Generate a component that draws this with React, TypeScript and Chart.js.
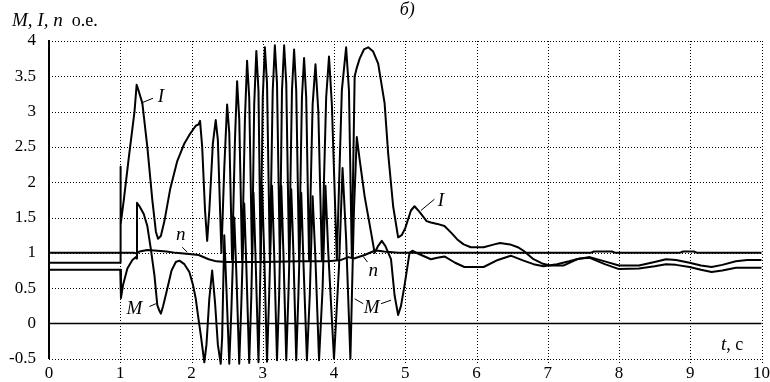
import React, { useEffect, useRef } from "react";
import { Chart, registerables } from "chart.js";

Chart.register(...registerables);

// Current I (p.u.) : [time s, value]
const SERIES_I: [number, number][] = [
  [0, 0.86], [1.0, 0.86], [1.0, 2.22], [1.01, 1.4], [1.05, 1.75], [1.12, 2.35], [1.2, 3.0], [1.23, 3.38],
  [1.25, 3.32], [1.31, 3.12], [1.38, 2.5], [1.45, 1.75], [1.5, 1.3], [1.53, 1.2], [1.57, 1.24], [1.62, 1.45],
  [1.7, 1.9], [1.8, 2.3], [1.9, 2.55], [1.97, 2.67], [2.06, 2.8], [2.1, 2.82], [2.12, 2.87], [2.15, 2.5],
  [2.19, 1.6], [2.22, 1.17], [2.25, 1.6], [2.3, 2.55], [2.34, 2.88], [2.37, 2.6], [2.42, 1.0], [2.46, 2.2],
  [2.5, 3.1], [2.53, 2.7], [2.57, 0.9], [2.61, 2.6], [2.64, 3.43], [2.67, 2.9], [2.71, 0.9], [2.75, 2.9],
  [2.78, 3.72], [2.81, 3.2], [2.85, 0.9], [2.88, 3.1], [2.91, 3.86], [2.94, 3.3], [2.97, 0.9], [3.0, 3.2],
  [3.03, 3.91], [3.06, 3.4], [3.1, 0.9], [3.14, 3.3], [3.17, 3.94], [3.2, 3.4], [3.24, 0.9], [3.27, 3.3],
  [3.3, 3.94], [3.33, 3.4], [3.37, 0.9], [3.41, 3.3], [3.44, 3.88], [3.47, 3.3], [3.51, 0.9], [3.55, 3.2],
  [3.58, 3.76], [3.61, 3.2], [3.65, 0.9], [3.7, 3.1], [3.74, 3.67], [3.78, 3.0], [3.83, 0.9], [3.89, 3.2],
  [3.93, 3.78], [3.97, 3.1], [4.04, 0.9], [4.11, 3.3], [4.17, 3.91], [4.21, 3.3], [4.25, 0.95], [4.29, 3.5],
  [4.32, 3.62], [4.36, 3.75], [4.42, 3.88], [4.48, 3.91], [4.55, 3.85], [4.62, 3.68], [4.71, 3.12], [4.76, 2.41],
  [4.83, 1.66], [4.9, 1.22], [4.95, 1.25], [5.0, 1.35], [5.08, 1.6], [5.13, 1.66], [5.2, 1.58], [5.3, 1.45],
  [5.36, 1.43], [5.45, 1.41], [5.55, 1.38], [5.65, 1.28], [5.73, 1.19], [5.82, 1.12], [5.92, 1.08], [6.1, 1.08],
  [6.25, 1.12], [6.33, 1.14], [6.47, 1.12], [6.58, 1.08], [6.66, 1.03], [6.8, 0.91], [6.92, 0.85], [7.03, 0.82],
  [7.22, 0.82], [7.41, 0.91], [7.59, 0.94], [7.8, 0.88], [8.0, 0.82], [8.28, 0.82], [8.5, 0.87], [8.66, 0.91],
  [8.8, 0.9], [8.99, 0.86], [9.15, 0.82], [9.3, 0.8], [9.45, 0.83], [9.64, 0.88], [9.8, 0.9], [10, 0.9],
];

// Torque M (p.u.)
const SERIES_M: [number, number][] = [
  [0, 0.76], [1.0, 0.76], [1.01, 0.36], [1.04, 0.55], [1.1, 0.78], [1.17, 0.9], [1.22, 0.94], [1.23, 0.92],
  [1.235, 1.71], [1.27, 1.66], [1.33, 1.55], [1.38, 1.38], [1.43, 1.05], [1.48, 0.68], [1.52, 0.26], [1.55, 0.18],
  [1.57, 0.14], [1.6, 0.24], [1.65, 0.45], [1.72, 0.75], [1.78, 0.87], [1.83, 0.89], [1.9, 0.84], [1.97, 0.73],
  [2.02, 0.55], [2.06, 0.35], [2.1, 0.05], [2.13, -0.16], [2.18, -0.55], [2.21, -0.3], [2.25, 0.35], [2.29, 0.75],
  [2.33, 0.3], [2.37, -0.3], [2.41, -0.57], [2.43, -0.2], [2.46, 1.25], [2.49, 0.5], [2.53, -0.57], [2.56, 0.2],
  [2.6, 1.5], [2.63, 0.7], [2.67, -0.57], [2.7, 0.3], [2.74, 1.7], [2.77, 0.8], [2.81, -0.56], [2.84, 0.4],
  [2.87, 1.85], [2.9, 0.9], [2.94, -0.55], [2.96, 0.4], [2.99, 1.95], [3.02, 1.0], [3.06, -0.54], [3.09, 0.4],
  [3.13, 1.95], [3.16, 1.0], [3.2, -0.52], [3.23, 0.4], [3.26, 1.95], [3.29, 1.0], [3.33, -0.52], [3.36, 0.4],
  [3.4, 1.9], [3.43, 1.0], [3.47, -0.52], [3.5, 0.4], [3.54, 1.85], [3.57, 0.9], [3.62, -0.52], [3.66, 0.4],
  [3.7, 1.8], [3.74, 0.9], [3.79, -0.52], [3.84, 0.5], [3.88, 1.95], [3.92, 1.0], [4.0, -0.5], [4.07, 0.8],
  [4.12, 2.2], [4.17, 1.2], [4.23, -0.5], [4.28, 1.6], [4.32, 2.64], [4.36, 2.32], [4.43, 1.8], [4.52, 1.29],
  [4.57, 1.0], [4.62, 1.1], [4.67, 1.17], [4.72, 1.1], [4.8, 0.91], [4.85, 0.4], [4.9, 0.12], [4.94, 0.25],
  [4.99, 0.54], [5.06, 1.0], [5.1, 1.03], [5.2, 0.98], [5.36, 0.91], [5.45, 0.93], [5.55, 0.95], [5.7, 0.86],
  [5.83, 0.8], [6.1, 0.8], [6.3, 0.9], [6.48, 0.96], [6.66, 0.89], [6.8, 0.84], [6.94, 0.81], [7.13, 0.84],
  [7.3, 0.88], [7.45, 0.92], [7.59, 0.93], [7.8, 0.84], [8.0, 0.77], [8.28, 0.78], [8.5, 0.81], [8.66, 0.84],
  [8.8, 0.83], [8.99, 0.8], [9.15, 0.76], [9.3, 0.73], [9.45, 0.75], [9.64, 0.79], [9.8, 0.79], [10, 0.79],
];

// Speed n (p.u.)
const SERIES_N: [number, number][] = [
  [0, 1.0], [1.2, 1.0], [1.23, 0.99], [1.27, 1.02], [1.38, 1.04], [1.52, 1.03], [1.65, 1.02], [1.78, 1.0],
  [2.0, 0.98], [2.1, 0.97], [2.24, 0.91], [2.35, 0.88], [2.48, 0.87], [3.0, 0.87], [3.5, 0.88], [3.92, 0.88],
  [4.1, 0.9], [4.2, 0.94], [4.28, 0.92], [4.43, 0.97], [4.57, 1.03], [4.62, 1.03], [4.7, 1.02], [4.9, 1.0],
  [7.6, 1.0], [7.65, 1.02], [7.9, 1.02], [7.95, 1.0], [8.85, 1.0], [8.9, 1.02], [9.05, 1.02], [9.1, 1.0], [10, 1.0],
];

const ZERO_LINE: [number, number][] = [[0, 0], [10, 0]];

const X_TICKS = [0, 1, 2, 3, 4, 5, 6, 7, 8, 9, 10];
const Y_TICKS = [-0.5, 0, 0.5, 1, 1.5, 2, 2.5, 3, 3.5, 4];

// Curve labels (data coords)
const CURVE_LABELS = [
  { text: "I", x: 1.57, y: 3.2 },
  { text: "M", x: 1.2, y: 0.21 },
  { text: "n", x: 1.85, y: 1.26 },
  { text: "n", x: 4.55, y: 0.75 },
  { text: "M", x: 4.53, y: 0.22 },
  { text: "I", x: 5.5, y: 1.73 },
];
const LEADERS: [number, number, number, number][] = [
  [1.29, 3.12, 1.46, 3.19],
  [1.41, 0.24, 1.5, 0.28],
  [1.87, 1.08, 1.94, 1.01],
  [4.47, 0.87, 4.41, 0.95],
  [4.41, 0.28, 4.29, 0.35],
  [4.66, 0.28, 4.8, 0.33],
  [5.41, 1.76, 5.22, 1.6],
];

const SERIF = '"Liberation Serif", "Times New Roman", serif';

export default function App() {
  const ref = useRef<HTMLCanvasElement | null>(null);

  useEffect(() => {
    document.body.style.margin = "0";
    const canvas = ref.current;
    if (!canvas) return;
    const pts = (a: [number, number][]) => a.map(([x, y]) => ({ x, y }));
    const line = (a: [number, number][], w = 2) => ({
      data: pts(a),
      borderColor: "#000",
      backgroundColor: "#000",
      borderWidth: w,
      pointRadius: 0,
      tension: 0,
      fill: false,
      clip: false as any,
      borderJoinStyle: "round" as const,
    });

    const dottedGrid = {
      id: "dottedGrid",
      beforeDatasetsDraw(chart: any) {
        const { ctx, scales, chartArea } = chart;
        const xs = scales.x;
        const ys = scales.y;
        ctx.save();
        ctx.strokeStyle = "#000";
        ctx.lineWidth = 1;
        ctx.setLineDash([1, 2]);
        for (const v of Y_TICKS) {
          const y = Math.round(ys.getPixelForValue(v)) + 0.5;
          ctx.beginPath();
          ctx.moveTo(chartArea.left, y);
          ctx.lineTo(chartArea.right, y);
          ctx.stroke();
        }
        for (const v of X_TICKS) {
          if (v === 0) continue;
          const x = Math.round(xs.getPixelForValue(v)) + 0.5;
          ctx.beginPath();
          ctx.moveTo(x, chartArea.top);
          ctx.lineTo(x, chartArea.bottom + 6);
          ctx.stroke();
        }
        ctx.restore();
      },
    };

    const annot = {
      id: "annot",
      afterDatasetsDraw(chart: any) {
        const { ctx, scales } = chart;
        const xs = scales.x;
        const ys = scales.y;
        ctx.save();
        ctx.fillStyle = "#000";
        ctx.strokeStyle = "#000";
        ctx.lineWidth = 1;
        for (const [x1, y1, x2, y2] of LEADERS) {
          ctx.beginPath();
          ctx.moveTo(xs.getPixelForValue(x1), ys.getPixelForValue(y1));
          ctx.lineTo(xs.getPixelForValue(x2), ys.getPixelForValue(y2));
          ctx.stroke();
        }
        ctx.font = `italic 19px ${SERIF}`;
        ctx.textAlign = "center";
        ctx.textBaseline = "middle";
        for (const l of CURVE_LABELS) {
          ctx.fillText(l.text, xs.getPixelForValue(l.x), ys.getPixelForValue(l.y));
        }
        // axis name t, c
        ctx.textAlign = "left";
        ctx.textBaseline = "alphabetic";
        const tx = xs.getPixelForValue(9.43);
        const ty = ys.getPixelForValue(-0.5) - 9;
        ctx.font = `italic 19px ${SERIF}`;
        ctx.fillText("t", tx, ty);
        const tw = ctx.measureText("t").width;
        ctx.font = `18px ${SERIF}`;
        ctx.fillText(", c", tx + tw, ty);
        // y axis title
        ctx.font = `italic 19px ${SERIF}`;
        ctx.fillText("M, I, n", 12, 26);
        const w1 = ctx.measureText("M, I, n").width;
        ctx.font = `18px ${SERIF}`;
        ctx.fillText("  o.e.", 12 + w1, 26);
        // panel tag
        ctx.font = `italic 18px ${SERIF}`;
        ctx.textAlign = "center";
        ctx.fillText("б)", (chart.chartArea.left + chart.chartArea.right) / 2 + 2, 15);
        ctx.restore();
      },
    };

    const chart = new Chart(canvas, {
      type: "line",
      data: {
        datasets: [
          line(ZERO_LINE, 1.6),
          line(SERIES_N),
          line(SERIES_M),
          line(SERIES_I),
        ] as any,
      },
      options: {
        responsive: false,
        animation: false,
        devicePixelRatio: 1,
        layout: { padding: { top: 41, right: 4, left: 0, bottom: 0 } },
        plugins: {
          legend: { display: false },
          tooltip: { enabled: false },
          title: { display: false },
        },
        scales: {
          x: {
            type: "linear",
            min: 0,
            max: 10,
            afterBuildTicks: (s: any) => {
              s.ticks = X_TICKS.map((v) => ({ value: v }));
            },
            afterFit: (s: any) => {
              s.height = 23;
            },
            grid: { display: false, drawTicks: true, tickLength: 5 },
            border: { display: false },
            ticks: {
              color: "#000",
              font: { family: SERIF, size: 17 },
              padding: 0,
              maxRotation: 0,
              autoSkip: false,
              callback: (v: any) => String(v),
            },
          },
          y: {
            type: "linear",
            min: -0.5,
            max: 4,
            afterBuildTicks: (s: any) => {
              s.ticks = Y_TICKS.map((v) => ({ value: v }));
            },
            afterFit: (s: any) => {
              s.width = 49;
            },
            grid: { display: false, drawTicks: false },
            border: { display: true, color: "#000", width: 2 },
            ticks: {
              color: "#000",
              font: { family: SERIF, size: 17 },
              padding: 13,
              autoSkip: false,
              callback: (v: any) => String(v),
            },
          },
        },
      } as any,
      plugins: [dottedGrid, annot],
    });
    return () => chart.destroy();
  }, []);

  return (
    <div style={{ width: 770, height: 382, background: "#fff" }}>
      <canvas ref={ref} width={770} height={382} style={{ display: "block" }} />
    </div>
  );
}
